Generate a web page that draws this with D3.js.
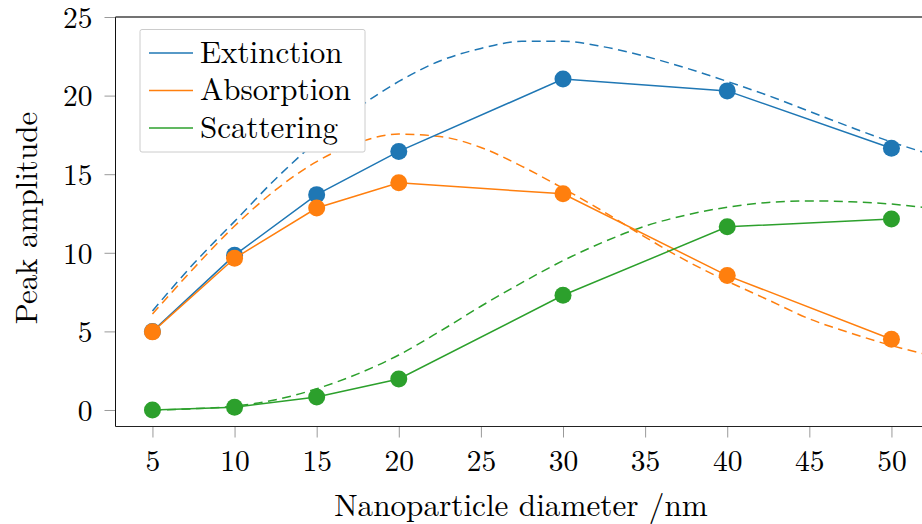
<!DOCTYPE html>
<html>
<head>
<meta charset="utf-8">
<script src="https://cdn.jsdelivr.net/npm/d3@7"></script>
<style>
  html, body { margin: 0; padding: 0; background: #fff; }
  svg { display: block; }
</style>
</head>
<body>
<svg id="chart" width="922" height="524"></svg>
<script>
// Measured peak amplitudes per nanoparticle diameter
const diameters = [5, 10, 15, 20, 30, 40, 50];
const extinction = [5.0, 9.85, 13.7, 16.45, 21.05, 20.3, 16.65];
const absorption = [4.97, 9.65, 12.85, 14.45, 13.75, 8.55, 4.5];
const scattering = [0.0, 0.18, 0.82, 1.97, 7.3, 11.65, 12.15];

// Model curves (dashed) sampled along the diameter axis
const modelDiameters = [5, 7.5, 10, 12.5, 15, 17.5, 20, 22.5, 25, 27.5, 30, 32.5, 35, 37.5, 40, 42.5, 45, 47.5, 50, 52.25];
const extinctionModel = [6.3, 9.3, 12.0, 14.7, 17.1, 19.2, 20.9, 22.2, 23.0, 23.45, 23.45, 23.1, 22.5, 21.75, 20.9, 20.0, 19.0, 18.0, 17.05, 16.3];
const absorptionModel = [6.1, 9.0, 11.7, 14.0, 15.8, 17.0, 17.55, 17.4, 16.7, 15.5, 14.1, 12.6, 11.0, 9.5, 8.2, 7.0, 5.8, 4.9, 4.1, 3.5];
const scatteringModel = [0.0, 0.08, 0.25, 0.65, 1.35, 2.3, 3.5, 5.0, 6.6, 8.1, 9.5, 10.7, 11.7, 12.4, 12.9, 13.2, 13.3, 13.25, 13.1, 12.85];

const seriesNames = ["Extinction", "Absorption", "Scattering"];
const seriesColors = ["#1f77b4", "#ff7f0e", "#2ca02c"];
const xTicks = [5, 10, 15, 20, 25, 30, 35, 40, 45, 50];
const yTicks = [0, 5, 10, 15, 20, 25];

const series = [
  { name: seriesNames[0], color: seriesColors[0], values: extinction, model: extinctionModel },
  { name: seriesNames[1], color: seriesColors[1], values: absorption, model: absorptionModel },
  { name: seriesNames[2], color: seriesColors[2], values: scattering, model: scatteringModel }
];

const FONT = "Latin Modern Roman";
const svg = d3.select("#chart");
const plot = { left: 115.5, right: 928.4, top: 17, bottom: 426.5 };

const x = d3.scaleLinear().domain([2.75, 52.25]).range([plot.left, plot.right]);
const y = d3.scaleLinear().domain([-1.05, 25]).range([plot.bottom, plot.top]);

svg.append("defs").append("clipPath").attr("id", "plot-clip")
  .append("rect")
  .attr("x", plot.left).attr("y", plot.top)
  .attr("width", plot.right - plot.left).attr("height", plot.bottom - plot.top);

// Axes with outward grey ticks
const xAxis = svg.append("g")
  .attr("transform", `translate(0,${plot.bottom})`)
  .call(d3.axisBottom(x).tickValues(xTicks).tickSize(11).tickPadding(10).tickFormat(d3.format("d")));
const yAxis = svg.append("g")
  .attr("transform", `translate(${plot.left},0)`)
  .call(d3.axisLeft(y).tickValues(yTicks).tickSize(11).tickPadding(12).tickFormat(d3.format("d")));

[xAxis, yAxis].forEach(g => {
  g.attr("font-family", FONT).attr("font-size", 29.5);
  g.select(".domain").remove();
  g.selectAll(".tick line").attr("stroke", "#9a9a9a").attr("stroke-width", 1);
  g.selectAll(".tick text").attr("fill", "#000");
});
xAxis.selectAll(".tick text").attr("dy", "0.78em");
yAxis.selectAll(".tick text").attr("dy", "0.35em");

// Data layer
const layer = svg.append("g").attr("clip-path", "url(#plot-clip)");

const line = d3.line().x(d => x(d[0])).y(d => y(d[1]));
const smooth = d3.line().x(d => x(d[0])).y(d => y(d[1])).curve(d3.curveMonotoneX);

series.forEach(s => {
  layer.append("path")
    .datum(modelDiameters.map((d, i) => [d, s.model[i]]))
    .attr("d", smooth)
    .attr("fill", "none")
    .attr("stroke", s.color)
    .attr("stroke-width", 1.5)
    .attr("stroke-dasharray", "9,5.5");
});

series.forEach(s => {
  const pts = diameters.map((d, i) => [d, s.values[i]]);
  layer.append("path")
    .datum(pts)
    .attr("d", line)
    .attr("fill", "none")
    .attr("stroke", s.color)
    .attr("stroke-width", 1.5);
  layer.selectAll(null)
    .data(pts)
    .join("circle")
    .attr("cx", d => x(d[0]))
    .attr("cy", d => y(d[1]))
    .attr("r", 8.5)
    .attr("fill", s.color);
});

// Frame: left, bottom and top edges
const frame = svg.append("g").attr("fill", "none").attr("stroke-width", 1);
frame.append("line").attr("x1", plot.left).attr("x2", plot.left)
  .attr("y1", plot.top).attr("y2", plot.bottom).attr("stroke", "#111");
frame.append("line").attr("x1", plot.left).attr("x2", plot.right)
  .attr("y1", plot.bottom).attr("y2", plot.bottom).attr("stroke", "#222");
frame.append("line").attr("x1", plot.left).attr("x2", plot.right)
  .attr("y1", plot.top).attr("y2", plot.top).attr("stroke", "#444").attr("stroke-width", 1.3);

// Legend
const legend = svg.append("g").attr("font-family", FONT).attr("font-size", 31);
legend.append("rect")
  .attr("x", 140).attr("y", 29.5).attr("width", 225).attr("height", 122.5)
  .attr("rx", 2)
  .attr("fill", "#fff")
  .attr("stroke", "#cccccc").attr("stroke-width", 1);

series.forEach((s, i) => {
  const cy = 53 + i * 37.5;
  legend.append("line")
    .attr("x1", 149).attr("x2", 193)
    .attr("y1", cy).attr("y2", cy)
    .attr("stroke", s.color).attr("stroke-width", 1.5);
  legend.append("text")
    .attr("x", 200).attr("y", cy + 9.5)
    .attr("fill", "#000")
    .text(s.name);
});

// Axis titles
svg.append("text")
  .attr("x", 521).attr("y", 516)
  .attr("text-anchor", "middle")
  .attr("font-family", FONT).attr("font-size", 31.2)
  .text("Nanoparticle diameter /nm");

svg.append("text")
  .attr("transform", "translate(37,218) rotate(-90)")
  .attr("text-anchor", "middle")
  .attr("font-family", FONT).attr("font-size", 31)
  .text("Peak amplitude");
</script>
</body>
</html>
